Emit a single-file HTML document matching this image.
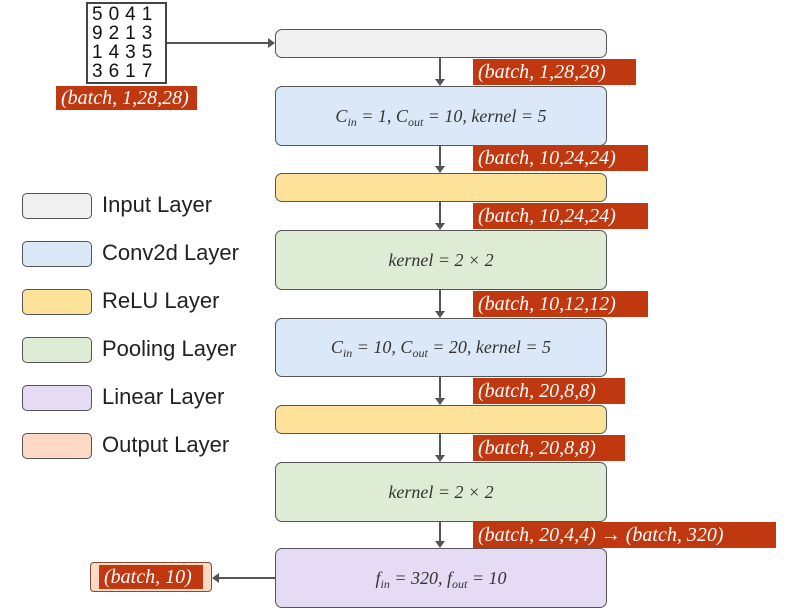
<!DOCTYPE html>
<html><head><style>
body{margin:0;width:800px;height:611px;background:#fff;position:relative;font-family:"Liberation Serif",serif;overflow:hidden}
.b{position:absolute;left:275px;width:332px;border:1.5px solid #555;border-radius:7px;box-sizing:border-box;display:flex;align-items:center;justify-content:center;font-style:italic;font-size:18px;color:#333}
.b sub{font-size:12px;vertical-align:-4px;line-height:0}
.l{position:absolute;background:#c0380f;color:#fff;font-style:italic;font-size:20px;height:26px;line-height:26px;padding:0 5px;box-sizing:border-box;white-space:nowrap}
.v{position:absolute;left:439px;width:2px;background:#555}
.ah{position:absolute;left:435px;width:0;height:0;border-left:5px solid transparent;border-right:5px solid transparent;border-top:7px solid #555}
.lg{position:absolute;left:22px;width:70px;height:26px;border:1.5px solid #555;border-radius:5px;box-sizing:border-box}
.lt{position:absolute;left:102px;font-family:"Liberation Sans",sans-serif;font-size:22px;color:#222}
.d{position:absolute;font-family:"Liberation Sans",sans-serif;font-size:19px;color:#111}
</style></head><body>
<div style="position:absolute;left:86px;top:2px;width:81px;height:82px;border:2px solid #444;box-sizing:border-box"></div>
<div class="d" style="left:92px;top:4px;letter-spacing:6px">5041</div>
<div class="d" style="left:92px;top:23px;letter-spacing:6px">9213</div>
<div class="d" style="left:92px;top:42px;letter-spacing:6px">1435</div>
<div class="d" style="left:92px;top:61px;letter-spacing:6px">3617</div>
<div class="l" style="left:56px;top:86px;width:141px;height:24px;line-height:24px">(batch, 1,28,28)</div>
<div style="position:absolute;left:167px;top:42px;width:102px;height:2px;background:#555"></div>
<div style="position:absolute;left:268px;top:38px;border-top:5px solid transparent;border-bottom:5px solid transparent;border-left:7px solid #555"></div>

<div class="b" style="top:29px;height:29px;background:#f0f0f0"></div>
<div class="b" style="top:86px;height:60px;background:#dae8f7"><span>C<sub>in</sub> = 1, C<sub>out</sub> = 10, kernel = 5</span></div>
<div class="b" style="top:173px;height:29px;background:#fde39a"></div>
<div class="b" style="top:230px;height:60px;background:#dfecd5"><span>kernel = 2 × 2</span></div>
<div class="b" style="top:318px;height:59px;background:#dae8f7"><span>C<sub>in</sub> = 10, C<sub>out</sub> = 20, kernel = 5</span></div>
<div class="b" style="top:405px;height:29px;background:#fde39a"></div>
<div class="b" style="top:462px;height:60px;background:#dfecd5"><span>kernel = 2 × 2</span></div>
<div class="b" style="top:548px;height:60px;background:#e5dbf4"><span>f<sub>in</sub> = 320, f<sub>out</sub> = 10</span></div>

<div class="v" style="top:58px;height:21px"></div><div class="ah" style="top:79px"></div>
<div class="v" style="top:146px;height:20px"></div><div class="ah" style="top:166px"></div>
<div class="v" style="top:202px;height:21px"></div><div class="ah" style="top:223px"></div>
<div class="v" style="top:290px;height:21px"></div><div class="ah" style="top:311px"></div>
<div class="v" style="top:377px;height:21px"></div><div class="ah" style="top:398px"></div>
<div class="v" style="top:434px;height:21px"></div><div class="ah" style="top:455px"></div>
<div class="v" style="top:522px;height:19px"></div><div class="ah" style="top:541px"></div>

<div class="l" style="left:473px;top:59px;width:163px">(batch, 1,28,28)</div>
<div class="l" style="left:473px;top:145px;width:175px">(batch, 10,24,24)</div>
<div class="l" style="left:473px;top:203px;width:175px">(batch, 10,24,24)</div>
<div class="l" style="left:473px;top:291px;width:175px">(batch, 10,12,12)</div>
<div class="l" style="left:473px;top:378px;width:152px">(batch, 20,8,8)</div>
<div class="l" style="left:473px;top:435px;width:152px">(batch, 20,8,8)</div>
<div class="l" style="left:473px;top:522px;width:303px">(batch, 20,4,4) → (batch, 320)</div>

<div style="position:absolute;left:90px;top:562px;width:122px;height:30px;background:#fbd9c4;border:1.5px solid #8a4a30;border-radius:4px;box-sizing:border-box"></div>
<div class="l" style="left:99px;top:565px;width:104px;height:24px;line-height:24px">(batch, 10)</div>
<div style="position:absolute;left:219px;top:577px;width:56px;height:2px;background:#555"></div>
<div style="position:absolute;left:212px;top:573px;border-top:5px solid transparent;border-bottom:5px solid transparent;border-right:7px solid #555"></div>

<div class="lg" style="top:193px;background:#f0f0f0"></div><div class="lt" style="top:192px">Input Layer</div>
<div class="lg" style="top:241px;background:#dae8f7"></div><div class="lt" style="top:240px">Conv2d Layer</div>
<div class="lg" style="top:289px;background:#fde39a"></div><div class="lt" style="top:288px">ReLU Layer</div>
<div class="lg" style="top:337px;background:#dfecd5"></div><div class="lt" style="top:336px">Pooling Layer</div>
<div class="lg" style="top:385px;background:#e5dbf4"></div><div class="lt" style="top:384px">Linear Layer</div>
<div class="lg" style="top:433px;background:#fbd9c4"></div><div class="lt" style="top:432px">Output Layer</div>
</body></html>
